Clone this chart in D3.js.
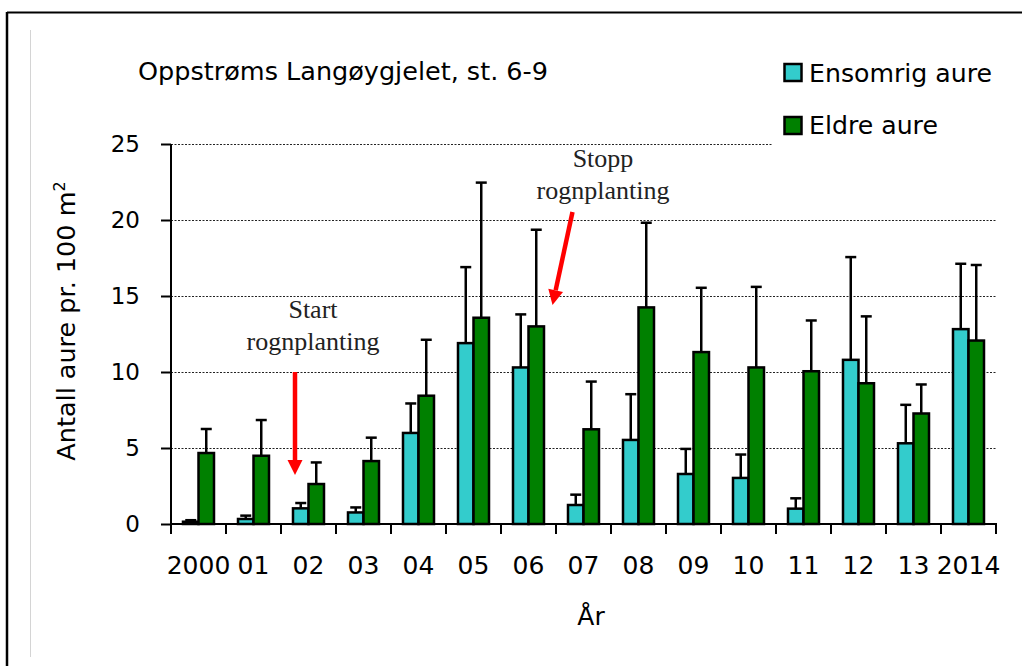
<!DOCTYPE html>
<html>
<head>
<meta charset="utf-8">
<script src="https://cdn.jsdelivr.net/npm/d3@7"></script>
<style>
  body { margin: 0; background: #fff; }
  svg { display: block; }
</style>
</head>
<body>
<svg id="chart"></svg>
<script>
// data
var years = ["2000", "01", "02", "03", "04", "05", "06", "07", "08", "09", "10", "11", "12", "13", "2014"];
var ensomrig = [0.15, 0.33, 1.03, 0.76, 5.99, 11.9, 10.3, 1.25, 5.53, 3.29, 3.03, 1.01, 10.8, 5.31, 12.82];
var ensomrigSd = [0.1, 0.22, 0.35, 0.33, 1.94, 5.0, 3.49, 0.68, 3.01, 1.65, 1.54, 0.68, 6.76, 2.53, 4.3];
var eldre = [4.67, 4.49, 2.63, 4.14, 8.44, 13.57, 13.0, 6.23, 14.25, 11.31, 10.3, 10.05, 9.26, 7.27, 12.07];
var eldreSd = [1.58, 2.35, 1.42, 1.54, 3.68, 8.89, 6.36, 3.14, 5.57, 4.23, 5.3, 3.34, 4.4, 1.91, 4.97];
var seriesNames = ["Ensomrig aure", "Eldre aure"];
var seriesColors = ["#33CCCC", "#008000"];
var yTicks = [0, 5, 10, 15, 20, 25];

var width = 1022;
var height = 666;
var plot = { left: 171, right: 996, top: 144, bottom: 524 };
var font = "DejaVu Sans";

var svg = d3.select("#chart")
    .attr("width", width)
    .attr("height", height);

// outer frame (top + left) and the faint inner line
svg.append("line")
    .attr("x1", 7).attr("x2", width)
    .attr("y1", 12.5).attr("y2", 12.5)
    .attr("stroke", "#000").attr("stroke-width", 2);
svg.append("line")
    .attr("x1", 7).attr("x2", 7)
    .attr("y1", 12).attr("y2", height)
    .attr("stroke", "#000").attr("stroke-width", 2.5);
svg.append("line")
    .attr("x1", 30.5).attr("x2", 30.5)
    .attr("y1", 30).attr("y2", 657)
    .attr("stroke", "#d4d4d4").attr("stroke-width", 1);

// scales
var xScale = d3.scaleBand()
    .domain(years)
    .range([plot.left, plot.right])
    .padding(0);

var xInner = d3.scaleBand()
    .domain([0, 1])
    .range([0, xScale.bandwidth()])
    .paddingInner(0)
    .paddingOuter(0.774);

var yScale = d3.scaleLinear()
    .domain([0, 25])
    .range([plot.bottom, plot.top]);

// gridlines
svg.append("g")
    .selectAll("line")
    .data(yTicks.filter(function(d) { return d > 0; }))
    .enter()
    .append("line")
    .attr("x1", plot.left)
    .attr("x2", plot.right)
    .attr("y1", function(d) { return Math.round(yScale(d)) + 0.5; })
    .attr("y2", function(d) { return Math.round(yScale(d)) + 0.5; })
    .attr("stroke", "#222")
    .attr("stroke-width", 1)
    .attr("stroke-dasharray", "2,1.5");

// build rows for the bars
var rows = [];
years.forEach(function(y, i) {
    rows.push({ year: y, s: 0, value: ensomrig[i], sd: ensomrigSd[i] });
    rows.push({ year: y, s: 1, value: eldre[i], sd: eldreSd[i] });
});

function barMid(d) {
    return xScale(d.year) + xInner(d.s) + xInner.bandwidth() / 2;
}

// bars
svg.append("g")
    .selectAll("rect")
    .data(rows)
    .enter()
    .append("rect")
    .attr("x", function(d) { return xScale(d.year) + xInner(d.s); })
    .attr("y", function(d) { return yScale(d.value); })
    .attr("width", xInner.bandwidth())
    .attr("height", function(d) { return yScale(0) - yScale(d.value); })
    .attr("fill", function(d) { return seriesColors[d.s]; })
    .attr("stroke", "#000")
    .attr("stroke-width", 2.5);

// error bars (upper only)
var err = svg.append("g")
    .attr("stroke", "#000")
    .attr("stroke-width", 2.5);

err.selectAll(".err-v")
    .data(rows)
    .enter()
    .append("line")
    .attr("class", "err-v")
    .attr("x1", barMid)
    .attr("x2", barMid)
    .attr("y1", function(d) { return yScale(d.value); })
    .attr("y2", function(d) { return yScale(d.value + d.sd); });

err.selectAll(".err-cap")
    .data(rows)
    .enter()
    .append("line")
    .attr("class", "err-cap")
    .attr("x1", function(d) { return barMid(d) - 5.5; })
    .attr("x2", function(d) { return barMid(d) + 5.5; })
    .attr("y1", function(d) { return yScale(d.value + d.sd); })
    .attr("y2", function(d) { return yScale(d.value + d.sd); });

// y axis
var y_axis = d3.axisLeft(yScale)
    .tickValues(yTicks)
    .tickSize(10)
    .tickPadding(21);

var gy = svg.append("g")
    .attr("class", "y_axis")
    .attr("transform", "translate(" + plot.left + ",0)")
    .call(y_axis);
gy.select(".domain").remove();
gy.append("line")
    .attr("x1", 0).attr("x2", 0)
    .attr("y1", plot.top).attr("y2", plot.bottom)
    .attr("stroke", "#000").attr("stroke-width", 2);
gy.selectAll(".tick line").attr("stroke", "#000").attr("stroke-width", 2);
gy.selectAll(".tick text")
    .attr("font-family", font)
    .attr("font-size", "23px")
    .attr("fill", "#000");

// x axis, ticks sit on the band edges
var edges = years.map(function(d) { return xScale(d); }).concat([plot.right]);
var gx = svg.append("g").attr("class", "x_axis");
gx.append("line")
    .attr("x1", plot.left - 1).attr("x2", plot.right + 1)
    .attr("y1", plot.bottom).attr("y2", plot.bottom)
    .attr("stroke", "#000").attr("stroke-width", 2);
gx.selectAll(".xtick")
    .data(edges)
    .enter()
    .append("line")
    .attr("class", "xtick")
    .attr("x1", function(d) { return d; })
    .attr("x2", function(d) { return d; })
    .attr("y1", plot.bottom)
    .attr("y2", plot.bottom + 10)
    .attr("stroke", "#000").attr("stroke-width", 2);
gx.selectAll(".xlabel")
    .data(years)
    .enter()
    .append("text")
    .attr("class", "xlabel")
    .attr("x", function(d) { return xScale(d) + xScale.bandwidth() / 2; })
    .attr("y", 574)
    .attr("text-anchor", "middle")
    .attr("font-family", font)
    .attr("font-size", "25px")
    .text(function(d) { return d; });

// axis titles
svg.append("text")
    .attr("x", 591)
    .attr("y", 625)
    .attr("text-anchor", "middle")
    .attr("font-family", font)
    .attr("font-size", "25px")
    .text("År");

var yl = svg.append("text")
    .attr("transform", "translate(75,321) rotate(-90)")
    .attr("text-anchor", "middle")
    .attr("font-family", font)
    .attr("font-size", "25.5px");
yl.append("tspan").text("Antall aure pr. 100 m");
yl.append("tspan").attr("dy", -10).attr("font-size", "16px").text("2");

// chart title
svg.append("text")
    .attr("x", 138)
    .attr("y", 80)
    .attr("font-family", font)
    .attr("font-size", "25.5px")
    .text("Oppstrøms Langøygjelet, st. 6-9");

// legend
var legend = svg.append("g");
legend.append("rect")
    .attr("x", 773).attr("y", 40)
    .attr("width", 240).attr("height", 110)
    .attr("fill", "#fff");
seriesNames.forEach(function(name, i) {
    legend.append("rect")
        .attr("x", 784.5)
        .attr("y", 64 + i * 53)
        .attr("width", 17)
        .attr("height", 17)
        .attr("fill", seriesColors[i])
        .attr("stroke", "#000")
        .attr("stroke-width", 2.5);
    legend.append("text")
        .attr("x", 809)
        .attr("y", 82 + i * 52)
        .attr("font-family", font)
        .attr("font-size", "25.2px")
        .text(name);
});

// annotations
function note(cx, y, lines) {
    var t = svg.append("text")
        .attr("text-anchor", "middle")
        .attr("font-family", "Liberation Serif")
        .attr("font-size", "26px")
        .attr("fill", "#222");
    lines.forEach(function(l, i) {
        t.append("tspan").attr("x", cx).attr("y", y + i * 32).text(l);
    });
}
note(313, 318, ["Start", "rognplanting"]);
note(603, 167, ["Stopp", "rognplanting"]);

function arrow(x1, y1, x2, y2) {
    var ang = Math.atan2(y2 - y1, x2 - x1);
    var len = 15, half = 7.5;
    var bx = x2 - len * Math.cos(ang), by = y2 - len * Math.sin(ang);
    svg.append("line")
        .attr("x1", x1).attr("y1", y1)
        .attr("x2", bx).attr("y2", by)
        .attr("stroke", "#FF0000").attr("stroke-width", 4.5);
    svg.append("path")
        .attr("d", "M" + x2 + "," + y2 +
            "L" + (bx + half * Math.sin(ang)) + "," + (by - half * Math.cos(ang)) +
            "L" + (bx - half * Math.sin(ang)) + "," + (by + half * Math.cos(ang)) + "Z")
        .attr("fill", "#FF0000");
}
arrow(295, 372, 295, 475);
arrow(572.5, 212, 552.5, 305);
</script>
</body>
</html>
